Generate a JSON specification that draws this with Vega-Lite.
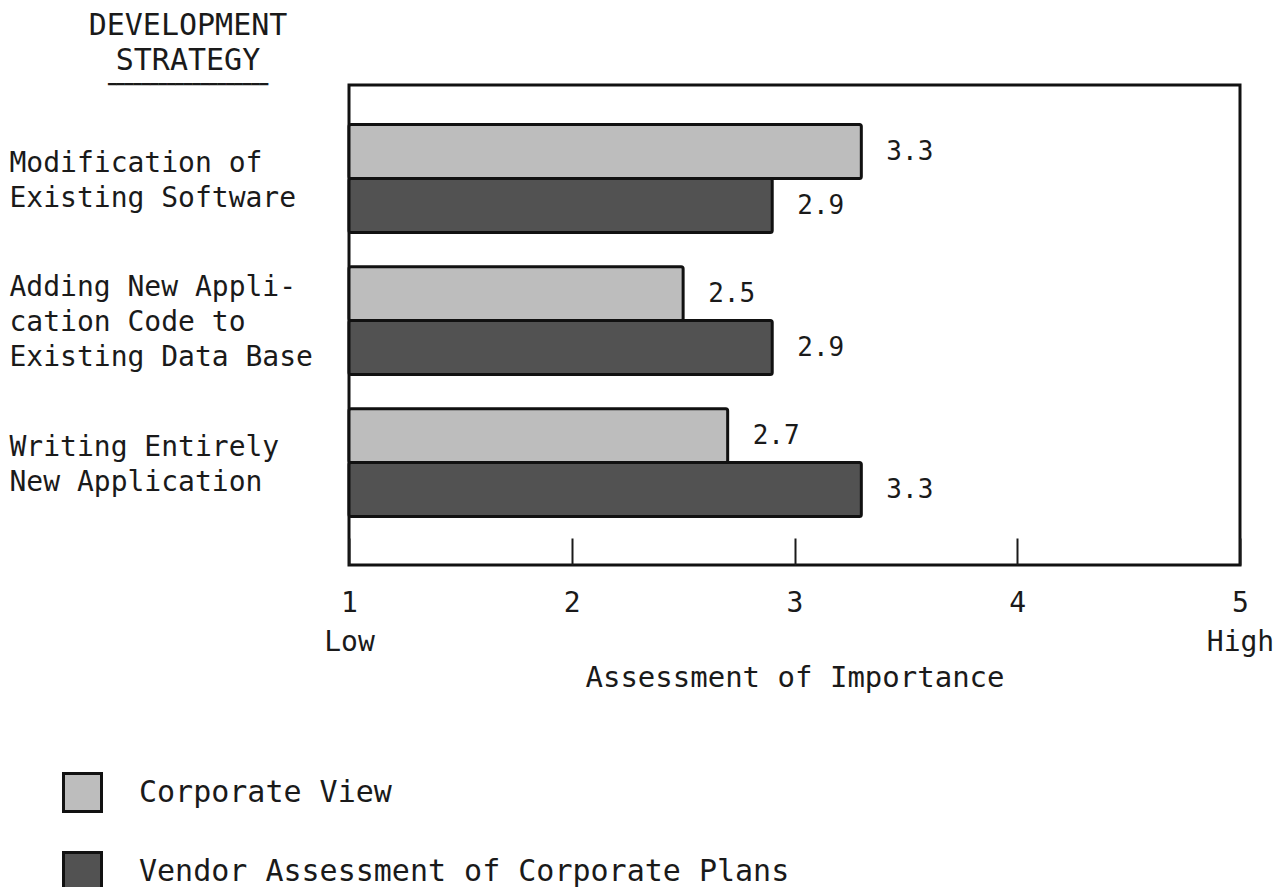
{
  "$schema": "https://vega.github.io/schema/vega-lite/v6.json",
  "autosize": {"type": "none"},
  "padding": {"left": 349, "top": 85, "right": 33, "bottom": 322},
  "width": 891,
  "height": 480,
  "background": "white",
  "title": {
    "text": ["DEVELOPMENT", "STRATEGY"],
    "subtitle": "━━━━━━━━━━━━━━━━━━━",
    "anchor": "start",
    "frame": "group",
    "align": "center",
    "dx": -161,
    "offset": -7,
    "font": "DejaVu Sans Mono",
    "fontSize": 30,
    "fontWeight": "normal",
    "color": "#1a1a1a",
    "lineHeight": 35,
    "subtitleFont": "DejaVu Sans Mono",
    "subtitleFontSize": 14,
    "subtitleColor": "#1a1a1a",
    "subtitlePadding": 2
  },
  "data": {
    "values": [
      {"strategy": "Modification of|Existing Software", "series": "Corporate View", "v": 3.3},
      {"strategy": "Modification of|Existing Software", "series": "Vendor Assessment of Corporate Plans", "v": 2.9},
      {"strategy": "Adding New Appli-|cation Code to|Existing Data Base", "series": "Corporate View", "v": 2.5},
      {"strategy": "Adding New Appli-|cation Code to|Existing Data Base", "series": "Vendor Assessment of Corporate Plans", "v": 2.9},
      {"strategy": "Writing Entirely|New Application", "series": "Corporate View", "v": 2.7},
      {"strategy": "Writing Entirely|New Application", "series": "Vendor Assessment of Corporate Plans", "v": 3.3}
    ]
  },
  "encoding": {
    "y": {
      "field": "strategy",
      "type": "nominal",
      "sort": null,
      "scale": {"paddingInner": 0.24, "paddingOuter": 0.31, "align": 0.45},
      "axis": {
        "title": null,
        "ticks": false,
        "tickSize": 0,
        "domain": false,
        "labelAlign": "left",
        "labelBaseline": "middle",
        "labelPadding": 340,
        "labelFont": "DejaVu Sans Mono",
        "labelFontSize": 28,
        "labelColor": "#1a1a1a",
        "labelLineHeight": 35,
        "labelExpr": "split(datum.label, '|')",
        "labelLimit": 400,
        "labelOffset": {
          "condition": {"test": "indexof(datum.value, 'Adding') == 0", "value": -33},
          "value": -15
        }
      }
    },
    "yOffset": {
      "field": "series",
      "type": "nominal",
      "sort": ["Corporate View", "Vendor Assessment of Corporate Plans"],
      "scale": {"paddingInner": 0, "paddingOuter": 0}
    }
  },
  "layer": [
    {
      "mark": {"type": "bar", "stroke": "#111", "strokeWidth": 3, "cornerRadius": 2},
      "encoding": {
        "x": {
          "field": "v",
          "type": "quantitative",
          "scale": {"domain": [1, 5], "zero": false, "nice": false},
          "axis": {
            "title": "Assessment of Importance",
            "values": [1, 2, 3, 4, 5],
            "grid": false,
            "domain": false,
            "ticks": true,
            "tickSize": -27,
            "tickWidth": 2,
            "tickColor": "#1a1a1a",
            "labelPadding": 51,
            "labelFont": "DejaVu Sans Mono",
            "labelFontSize": 28,
            "labelColor": "#1a1a1a",
            "labelLineHeight": 39,
            "labelExpr": "datum.value == 1 ? ['1', 'Low'] : datum.value == 5 ? ['5', 'High'] : format(datum.value, 'd')",
            "labelFlush": false,
            "labelOverlap": false,
            "titleFont": "DejaVu Sans Mono",
            "titleFontSize": 29,
            "titleFontWeight": "normal",
            "titleColor": "#1a1a1a",
            "titlePadding": 7
          }
        },
        "x2": {"datum": 1},
        "color": {
          "field": "series",
          "type": "nominal",
          "sort": ["Corporate View", "Vendor Assessment of Corporate Plans"],
          "scale": {"range": ["#bdbdbd", "#525252"]},
          "legend": {
            "title": null,
            "orient": "none",
            "legendX": -287,
            "legendY": 687,
            "direction": "vertical",
            "symbolType": "square",
            "symbolSize": 1444,
            "symbolStrokeColor": "#111",
            "symbolStrokeWidth": 3,
            "symbolOpacity": 1,
            "labelFont": "DejaVu Sans Mono",
            "labelFontSize": 30,
            "labelColor": "#1a1a1a",
            "labelOffset": 36,
            "labelLimit": 800,
            "rowPadding": 28
          }
        }
      }
    },
    {
      "mark": {"type": "text", "align": "left", "baseline": "middle", "dx": 25, "font": "DejaVu Sans Mono", "fontSize": 26, "color": "#1a1a1a"},
      "encoding": {
        "x": {"field": "v", "type": "quantitative"},
        "text": {"field": "v", "type": "quantitative", "format": ".1f"}
      }
    }
  ],
  "config": {
    "view": {"stroke": "#111", "strokeWidth": 3}
  }
}
